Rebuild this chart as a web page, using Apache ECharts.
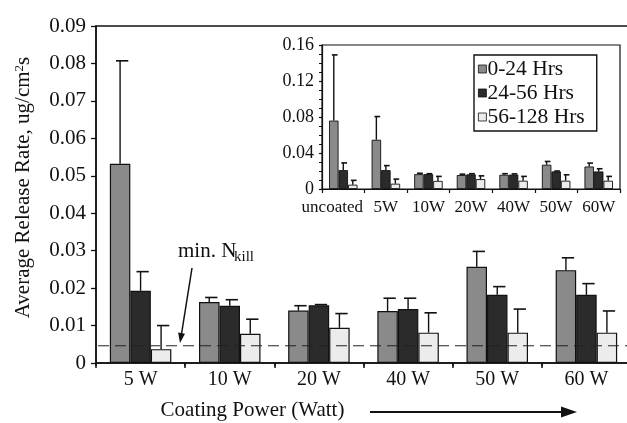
<!DOCTYPE html>
<html>
<head>
<meta charset="utf-8">
<script src="https://cdn.jsdelivr.net/npm/echarts@6/dist/echarts.min.js"></script>
<style>
  html, body { margin: 0; padding: 0; background: #fff; }
  #chart { width: 627px; height: 423px; }
</style>
</head>
<body>
<div id="chart"></div>
<script>
// 主图数据
const powers = ['5 W', '10 W', '20 W', '40 W', '50 W', '60 W'];
const seriesNames = ['0-24 Hrs', '24-56 Hrs', '56-128 Hrs'];
const rate0to24 = [0.0532, 0.0163, 0.0140, 0.0139, 0.0257, 0.0248];
const err0to24 = [0.0807, 0.0175, 0.0153, 0.0173, 0.0298, 0.0281];
const rate24to56 = [0.0193, 0.0153, 0.0154, 0.0144, 0.0182, 0.0182];
const err24to56 = [0.0244, 0.0169, 0.0156, 0.0173, 0.0204, 0.0212];
const rate56to128 = [0.0037, 0.0078, 0.0094, 0.0081, 0.0081, 0.0081];
const err56to128 = [0.0100, 0.0117, 0.0132, 0.0134, 0.0144, 0.0139];
const minNkill = 0.0046;

// 小图数据 (inset)
const insetCats = ['uncoated', '5W', '10W', '20W', '40W', '50W', '60W'];
const inset0to24 = [0.076, 0.0547, 0.0165, 0.0155, 0.0158, 0.027, 0.025];
const insetErr0to24 = [0.149, 0.0805, 0.0175, 0.0165, 0.017, 0.0306, 0.0288];
const inset24to56 = [0.021, 0.021, 0.0165, 0.0163, 0.016, 0.0195, 0.0195];
const insetErr24to56 = [0.029, 0.026, 0.017, 0.017, 0.0168, 0.02, 0.0225];
const inset56to128 = [0.0048, 0.0059, 0.009, 0.011, 0.0092, 0.0092, 0.0092];
const insetErr56to128 = [0.0096, 0.011, 0.014, 0.0146, 0.014, 0.0158, 0.014];

const colors = ['#8a8a8a', '#2b2b2b', '#ececec'];
const FONT = 'Liberation Serif';

const chart = echarts.init(document.getElementById('chart'));

// error bar: whisker from bar top to err top, cap at top only
const errSeries = (name, axisIdx, values, tops, k, barW) => ({
  name: name,
  type: 'custom',
  xAxisIndex: axisIdx,
  yAxisIndex: axisIdx,
  z: 5,
  data: values.map((v, i) => [i, v, tops[i]]),
  renderItem: (params, api) => {
    const base = api.coord([api.value(0), api.value(1)]);
    const top = api.coord([api.value(0), api.value(2)]);
    const x = base[0] + (k - 1) * barW;
    const capL = barW * 0.2, capR = barW * 0.4;
    return {
      type: 'group',
      children: [
        { type: 'line', shape: { x1: x, y1: base[1], x2: x, y2: top[1] }, style: { stroke: '#111', lineWidth: 1.4 } },
        { type: 'line', shape: { x1: x - capL, y1: top[1], x2: x + capR, y2: top[1] }, style: { stroke: '#111', lineWidth: 1.6 } }
      ]
    };
  }
});

const barSeries = (name, axisIdx, values, k, barW) => ({
  name: name,
  type: 'bar',
  xAxisIndex: axisIdx,
  yAxisIndex: axisIdx,
  barWidth: barW,
  barGap: '0%',
  data: values,
  itemStyle: { color: colors[k], borderColor: '#111', borderWidth: axisIdx === 0 ? 1.2 : 0.9 }
});

const mainVals = [rate0to24, rate24to56, rate56to128];
const mainErrs = [err0to24, err24to56, err56to128];
const insVals = [inset0to24, inset24to56, inset56to128];
const insErrs = [insetErr0to24, insetErr24to56, insetErr56to128];

const series = [];
mainVals.forEach((vals, k) => series.push(barSeries(seriesNames[k], 0, vals, k, 20.5)));
mainVals.forEach((vals, k) => series.push(errSeries('mainErr' + k, 0, vals, mainErrs[k], k, 20.5)));
insVals.forEach((vals, k) => series.push(barSeries(seriesNames[k], 1, vals, k, 9.5)));
insVals.forEach((vals, k) => series.push(errSeries('insErr' + k, 1, vals, insErrs[k], k, 9.5)));

// min. N_kill 虚线, 横跨主图 (画在柱子上面)
series.push({
  name: 'minNkill',
  type: 'custom',
  xAxisIndex: 0,
  yAxisIndex: 0,
  z: 10,
  data: [[0, minNkill]],
  renderItem: (params, api) => {
    const y = api.coord([0, api.value(1)])[1];
    const cs = params.coordSys;
    return {
      type: 'line',
      shape: { x1: cs.x + 2, y1: y, x2: cs.x + cs.width, y2: y },
      style: { stroke: '#222', lineWidth: 1, lineDash: [11, 6] }
    };
  }
});

const option = {
  animation: false,
  backgroundColor: '#fff',
  textStyle: { fontFamily: FONT, color: '#111' },
  grid: [
    { left: 96, top: 26, width: 535, bottom: 60, outerBoundsMode: 'none', containLabel: false, show: true, borderColor: '#111', borderWidth: 1.5 },
    { left: 322, top: 45, right: 7, bottom: 234, outerBoundsMode: 'none', containLabel: false, show: true, borderColor: '#111', borderWidth: 1.2, backgroundColor: '#fff' }
  ],
  legend: {
    data: seriesNames,
    orient: 'vertical',
    left: 474,
    top: 55,
    padding: [3, 12, 3, 4],
    itemGap: 2,
    itemWidth: 8,
    itemHeight: 8,
    itemStyle: { borderColor: '#111', borderWidth: 0.8 },
    icon: 'rect',
    borderColor: '#111',
    borderWidth: 1.4,
    backgroundColor: '#fff',
    selectedMode: false,
    textStyle: { fontFamily: FONT, fontSize: 21.5, color: '#111', padding: [0, 0, 0, -4], lineHeight: 21 }
  },
  xAxis: [
    {
      type: 'category', gridIndex: 0, data: powers,
      axisLine: { lineStyle: { color: '#111', width: 1.5 } },
      axisTick: { show: true, length: 5, lineStyle: { color: '#111', width: 1.5 } },
      axisLabel: { fontFamily: FONT, fontSize: 20, color: '#111', margin: 7 },
      name: 'Coating Power (Watt)',
      nameLocation: 'middle',
      nameGap: 37,
      nameTextStyle: { fontFamily: FONT, fontSize: 21, color: '#111', padding: [0, 222, 0, 0] }
    },
    {
      type: 'category', gridIndex: 1,
      data: insetCats.map((c, i) => i === 0 ? { value: c, textStyle: { padding: [0, 22, 0, 0] } } : c),
      axisLine: { lineStyle: { color: '#111', width: 1.2 } },
      axisTick: { show: true, length: 4, lineStyle: { color: '#111', width: 1.2 } },
      axisLabel: { fontFamily: FONT, fontSize: 17, color: '#111', margin: 10, interval: 0 }
    },
    {
      // 主图 x 轴内侧刻度
      type: 'category', gridIndex: 0, data: powers,
      axisLine: { show: false },
      axisTick: { show: true, inside: true, length: 3, lineStyle: { color: '#111', width: 1.5 } },
      axisLabel: { show: false }
    }
  ],
  yAxis: [
    {
      type: 'value', gridIndex: 0, min: 0, max: 0.09, interval: 0.01,
      splitLine: { show: false },
      axisLine: { show: true, lineStyle: { color: '#111', width: 1.5 } },
      axisTick: { show: true, length: 5, lineStyle: { color: '#111', width: 1.3 } },
      axisLabel: { fontFamily: FONT, fontSize: 21, color: '#111', margin: 10, formatter: v => v === 0 ? '0' : v.toFixed(2) },
      name: 'Average Release Rate, ug/cm{sup|2}s',
      nameLocation: 'middle',
      nameGap: 62,
      nameTextStyle: {
        fontFamily: FONT, fontSize: 21, color: '#111', padding: [0, 0, 0, 14],
        rich: { sup: { fontFamily: FONT, fontSize: 13, verticalAlign: 'top', padding: [0, 0, 8, 0] } }
      }
    },
    {
      type: 'value', gridIndex: 1, min: 0, max: 0.16, interval: 0.04,
      splitLine: { show: false },
      axisLine: { show: true, lineStyle: { color: '#111', width: 1.2 } },
      axisTick: { show: true, length: 3, lineStyle: { color: '#111', width: 1.2 } },
      minorTick: { show: true, splitNumber: 4, length: 3, lineStyle: { color: '#111', width: 1 } },
      axisLabel: { fontFamily: FONT, fontSize: 18, color: '#111', margin: 8, formatter: v => v === 0 ? '0' : v.toFixed(2) }
    },
    {
      // 主图 y 轴内侧刻度
      type: 'value', gridIndex: 0, min: 0, max: 0.09, interval: 0.01,
      splitLine: { show: false },
      axisLine: { show: false },
      axisTick: { show: true, inside: true, length: 4, lineStyle: { color: '#111', width: 1.3 } },
      axisLabel: { show: false }
    }
  ],
  graphic: [
    { type: 'text', left: 178, top: 241, style: { text: 'min. N', fontFamily: FONT, fontSize: 21, fill: '#111' } },
    { type: 'text', left: 234, top: 250, style: { text: 'kill', fontFamily: FONT, fontSize: 15, fill: '#111' } },
    { type: 'line', shape: { x1: 192, y1: 268, x2: 181.5, y2: 334 }, style: { stroke: '#111', lineWidth: 1.5 } },
    { type: 'polygon', shape: { points: [[180, 343], [185, 333.7], [178.1, 332.6]] }, style: { fill: '#111' } },
    { type: 'line', shape: { x1: 370, y1: 412, x2: 564, y2: 412 }, style: { stroke: '#111', lineWidth: 2 } },
    { type: 'polygon', shape: { points: [[561, 406.5], [577, 412], [561, 417.5]] }, style: { fill: '#111' } }
  ],
  series: series
};

chart.setOption(option);
</script>
</body>
</html>
